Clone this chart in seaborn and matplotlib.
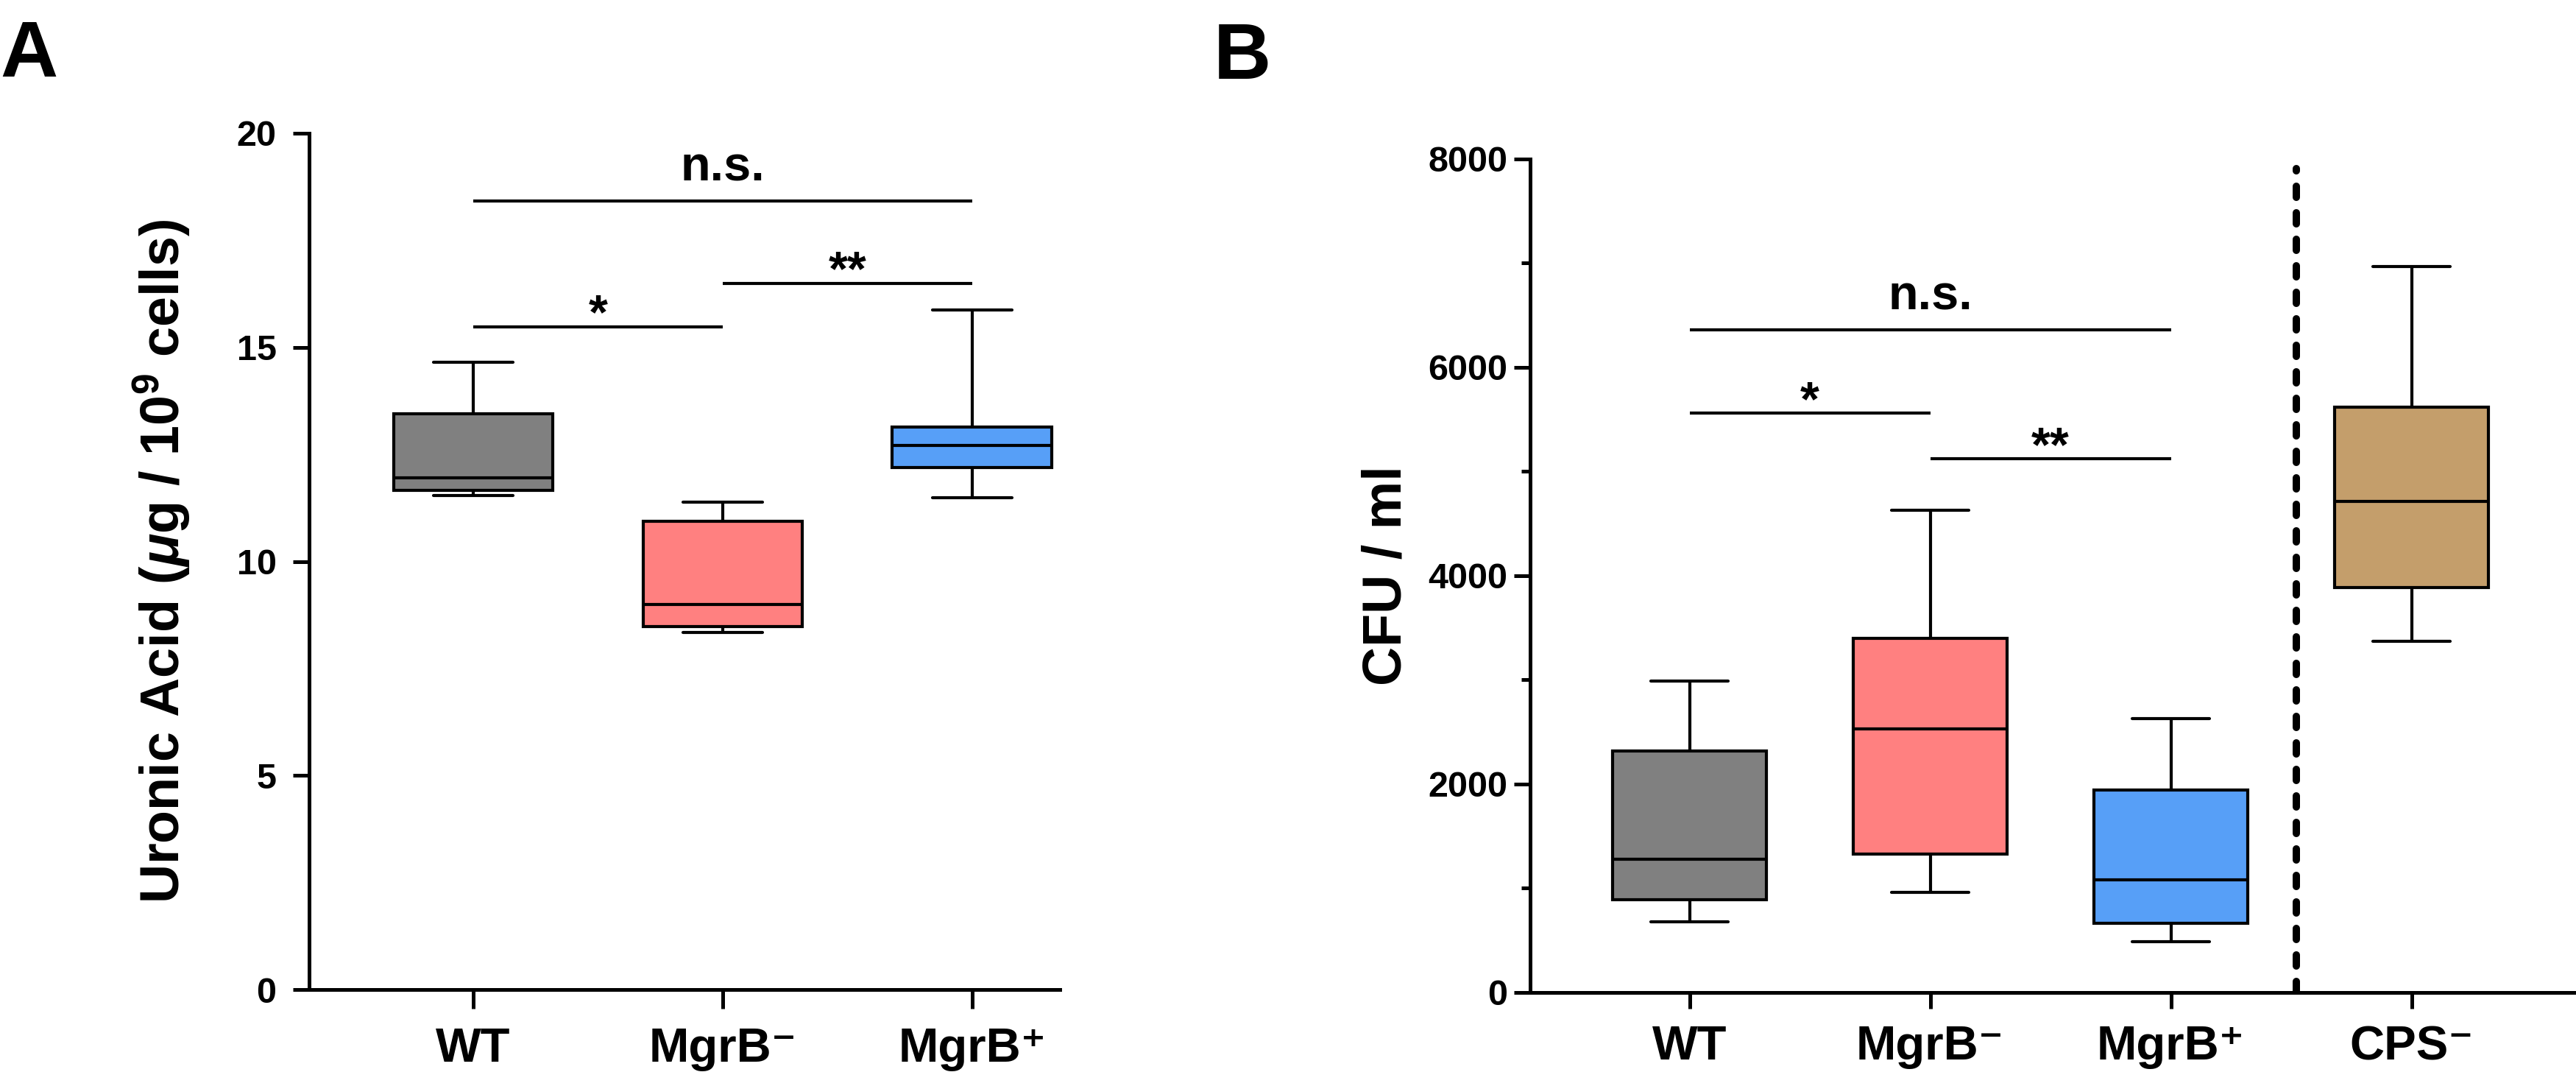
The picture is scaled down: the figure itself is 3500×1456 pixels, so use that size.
import numpy as np
import pandas as pd
import matplotlib
matplotlib.use("Agg")
import matplotlib.pyplot as plt
from matplotlib.ticker import MultipleLocator
import seaborn as sns

# five-number summaries: min, Q1, median, Q3, max
groups_a = ["WT", "MgrB-", "MgrB+"]
labels_a = ["WT", "MgrB\u207b", "MgrB\u207a"]
uronic_wt = [11.54, 11.66, 11.95, 13.44, 14.65]
uronic_mgrb_neg = [8.34, 8.48, 9.00, 10.93, 11.38]
uronic_mgrb_pos = [11.49, 12.20, 12.71, 13.14, 15.88]

groups_b = ["WT", "MgrB-", "MgrB+", "CPS-"]
labels_b = ["WT", "MgrB\u207b", "MgrB\u207a", "CPS\u207b"]
cfu_wt = [676, 892, 1280, 2316, 2990]
cfu_mgrb_neg = [958, 1330, 2530, 3400, 4630]
cfu_mgrb_pos = [490, 663, 1080, 1940, 2630]
cfu_cps_neg = [3370, 3890, 4710, 5620, 6970]

# significance brackets (group index pairs, height, text)
sig_pairs = [(0, 2), (0, 1), (1, 2)]
sig_text = ["n.s.", "*", "**"]
sig_y_a = [18.42, 15.48, 16.50]
sig_y_b = [6360, 5560, 5120]

colors = ["#808080", "#FF8080", "#579FF7", "#C49E6B"]

sns.set_style("ticks")
plt.rcParams["font.family"] = ["Liberation Sans", "DejaVu Sans"]
plt.rcParams["font.weight"] = "bold"
plt.rcParams["axes.labelweight"] = "bold"
for key in ["text.color", "axes.labelcolor", "axes.edgecolor",
            "xtick.color", "ytick.color"]:
    plt.rcParams[key] = "black"
plt.rcParams["mathtext.fontset"] = "custom"
plt.rcParams["mathtext.rm"] = "Liberation Sans:bold"
plt.rcParams["mathtext.it"] = "Liberation Sans:italic:bold"
plt.rcParams["mathtext.bf"] = "Liberation Sans:bold"

df_a = pd.DataFrame({
    "group": np.repeat(groups_a, 5),
    "value": np.concatenate([uronic_wt, uronic_mgrb_neg, uronic_mgrb_pos]),
})
df_b = pd.DataFrame({
    "group": np.repeat(groups_b, 5),
    "value": np.concatenate([cfu_wt, cfu_mgrb_neg, cfu_mgrb_pos, cfu_cps_neg]),
})

fig = plt.figure(figsize=(35, 14.56), dpi=100)
ax_a = fig.add_axes([0.12, 0.0769, 0.2914, 0.7988])
ax_b = fig.add_axes([0.594, 0.0742, 0.406, 0.7775])


def draw_panel(ax, df, order, tick_labels, sig_y):
    sns.boxplot(data=df, x="group", y="value", hue="group", order=order,
                hue_order=order, palette=colors[:len(order)], saturation=1,
                width=0.64, whis=np.inf, linewidth=3, linecolor="black",
                legend=False, ax=ax)
    # brackets for the pairwise tests
    for (i, j), txt, y in zip(sig_pairs, sig_text, sig_y):
        ax.plot([i, j], [y, y], color="black", lw=3, solid_capstyle="butt")
        dy = 20 if txt == "n.s." else -2
        ax.annotate(txt, xy=((i + j) / 2, y), xytext=(0, dy),
                    textcoords="offset points", ha="center", va="baseline",
                    fontsize=48, fontweight="bold")
    ax.set_xticks(range(len(order)))
    ax.set_xticklabels(tick_labels, fontsize=47)
    ax.set_xlabel("")
    sns.despine(ax=ax)
    for side in ["left", "bottom"]:
        ax.spines[side].set_linewidth(3.6)


# ---- panel A ----
draw_panel(ax_a, df_a, groups_a, labels_a, sig_y_a)
ax_a.set_xlim(-0.658, 2.351)
ax_a.set_ylim(0, 20)
ax_a.yaxis.set_major_locator(MultipleLocator(5))
ax_a.tick_params(axis="y", labelsize=35, length=16, width=3.6, pad=16)
ax_a.tick_params(axis="x", length=19, width=3.6, pad=18)
ax_a.set_ylabel(r"Uronic Acid ($\mu$g / 10$^{9}$ cells)", fontsize=53)
ax_a.yaxis.set_label_coords(-0.156, 0.5)

# ---- panel B ----
draw_panel(ax_b, df_b, groups_b, labels_b, sig_y_b)
ax_b.set_xlim(-0.662, 3.683)
ax_b.set_ylim(0, 8000)
ax_b.yaxis.set_major_locator(MultipleLocator(2000))
ax_b.yaxis.set_minor_locator(MultipleLocator(1000))
ax_b.tick_params(axis="y", which="major", labelsize=35, length=16, width=3.6, pad=6)
ax_b.tick_params(axis="y", which="minor", length=9, width=3.6)
ax_b.tick_params(axis="x", length=16, width=3.6, pad=16)
ax_b.set_ylabel("CFU / ml", fontsize=53)
ax_b.yaxis.set_label_coords(-0.1126, 0.5)
# separator before the capsule mutant
ax_b.plot([2.52, 2.52], [0, 7910], color="black", lw=7.2,
          dashes=(1.5, 2.1), dash_capstyle="round")

fig.text(0.0, 0.9286, "A", fontsize=78, fontweight="bold", va="baseline", ha="left")
fig.text(0.471, 0.9265, "B", fontsize=78, fontweight="bold", va="baseline", ha="left")

fig.savefig("out.png", dpi=100)
